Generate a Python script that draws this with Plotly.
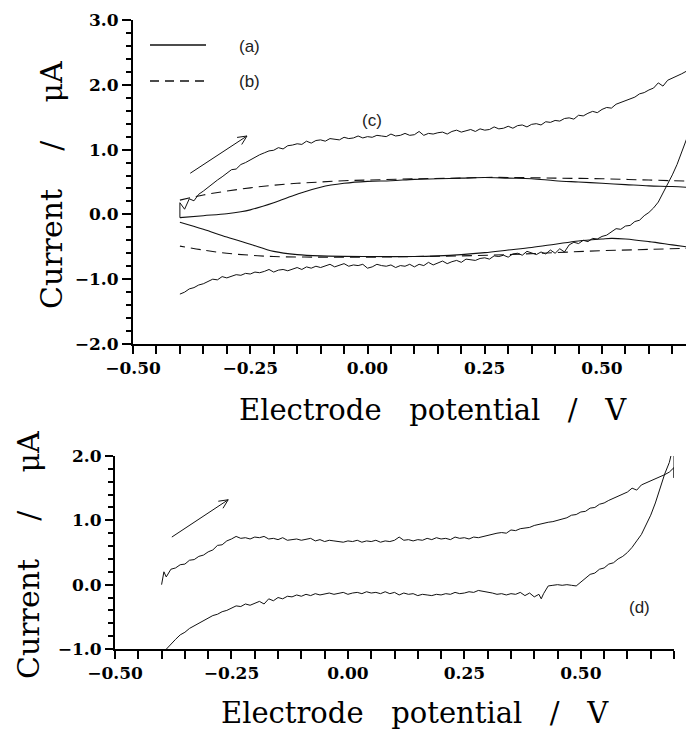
import math
import plotly.graph_objects as go

# ---------------- data ----------------
# (a) solid, smooth voltammogram
A_UP_E = [-0.40, -0.35, -0.30, -0.27, -0.25, -0.20, -0.15, -0.10, -0.05, 0.00, 0.05, 0.10, 0.15, 0.20, 0.25, 0.30, 0.35, 0.40, 0.45, 0.50, 0.55, 0.60, 0.65, 0.70]
A_UP_I = [-0.05, -0.02, 0.01, 0.04, 0.07, 0.18, 0.31, 0.42, 0.48, 0.51, 0.52, 0.54, 0.55, 0.56, 0.57, 0.56, 0.55, 0.52, 0.50, 0.48, 0.46, 0.44, 0.43, 0.41]
A_DN_E = [0.70, 0.65, 0.60, 0.55, 0.52, 0.50, 0.45, 0.40, 0.35, 0.30, 0.25, 0.20, 0.15, 0.10, 0.00, -0.10, -0.15, -0.20, -0.25, -0.30, -0.35, -0.40]
A_DN_I = [-0.52, -0.47, -0.42, -0.38, -0.37, -0.38, -0.41, -0.46, -0.51, -0.55, -0.59, -0.62, -0.64, -0.65, -0.65, -0.64, -0.62, -0.57, -0.46, -0.35, -0.23, -0.12]

# (b) dashed
B_UP_E = [-0.40, -0.35, -0.30, -0.25, -0.20, -0.15, -0.10, -0.05, 0.00, 0.10, 0.20, 0.25, 0.30, 0.40, 0.50, 0.60, 0.70]
B_UP_I = [0.22, 0.30, 0.36, 0.41, 0.45, 0.48, 0.50, 0.52, 0.53, 0.55, 0.56, 0.57, 0.57, 0.56, 0.55, 0.53, 0.51]
B_DN_E = [0.70, 0.60, 0.50, 0.40, 0.30, 0.20, 0.10, 0.00, -0.10, -0.20, -0.25, -0.30, -0.35, -0.40]
B_DN_I = [-0.52, -0.54, -0.56, -0.59, -0.62, -0.64, -0.65, -0.66, -0.66, -0.65, -0.63, -0.60, -0.55, -0.49]

# (c) noisy, top panel
C_E = [-0.40, -0.40, -0.39, -0.38, -0.37, -0.36, -0.35, -0.34, -0.33, -0.32, -0.31, -0.30, -0.29, -0.28, -0.27, -0.26, -0.25, -0.24, -0.23, -0.22, -0.21,
       -0.20, -0.19, -0.18, -0.17, -0.16, -0.15, -0.14, -0.13, -0.12, -0.11, -0.10, -0.09, -0.08, -0.07, -0.06, -0.05, -0.04, -0.03, -0.02, -0.01,
       0.00, 0.01, 0.02, 0.03, 0.04, 0.05, 0.06, 0.07, 0.08, 0.09, 0.10, 0.11, 0.12, 0.13, 0.14, 0.15, 0.16, 0.17, 0.18, 0.19,
       0.20, 0.21, 0.22, 0.23, 0.24, 0.25, 0.26, 0.27, 0.28, 0.29, 0.30, 0.31, 0.32, 0.33, 0.34, 0.35, 0.36, 0.37, 0.38, 0.39,
       0.40, 0.41, 0.42, 0.43, 0.44, 0.45, 0.46, 0.47, 0.48, 0.49, 0.50, 0.51, 0.52, 0.53, 0.54, 0.55, 0.56, 0.57, 0.58, 0.59,
       0.60, 0.61, 0.62, 0.63, 0.64, 0.65, 0.66, 0.67, 0.68, 0.69, 0.70,
       0.69, 0.68, 0.67, 0.66, 0.65, 0.64, 0.63, 0.62, 0.61, 0.60, 0.59, 0.58, 0.57, 0.56, 0.55, 0.54, 0.53, 0.52, 0.51,
       0.50, 0.49, 0.48, 0.47, 0.46, 0.45, 0.44, 0.43, 0.42, 0.41, 0.40, 0.39, 0.38, 0.37, 0.36, 0.35, 0.34, 0.33, 0.32, 0.31,
       0.30, 0.29, 0.28, 0.27, 0.26, 0.25, 0.24, 0.23, 0.22, 0.21, 0.20, 0.19, 0.18, 0.17, 0.16, 0.15, 0.14, 0.13, 0.12, 0.11,
       0.10, 0.09, 0.08, 0.07, 0.06, 0.05, 0.04, 0.03, 0.02, 0.01, 0.00, -0.01, -0.02, -0.03, -0.04, -0.05, -0.06, -0.07, -0.08, -0.09,
       -0.10, -0.11, -0.12, -0.13, -0.14, -0.15, -0.16, -0.17, -0.18, -0.19, -0.20, -0.21, -0.22, -0.23, -0.24, -0.25, -0.26, -0.27, -0.28, -0.29,
       -0.30, -0.31, -0.32, -0.33, -0.34, -0.35, -0.36, -0.37, -0.38, -0.39, -0.40]
C_I = [-0.05, 0.18, 0.08, 0.24, 0.21, 0.31, 0.36, 0.42, 0.48, 0.53, 0.58, 0.63, 0.69, 0.70, 0.77, 0.80, 0.84, 0.89, 0.92, 0.95, 0.98,
       0.99, 1.03, 1.01, 1.06, 1.07, 1.09, 1.08, 1.13, 1.10, 1.14, 1.15, 1.13, 1.17, 1.16, 1.15, 1.19, 1.17, 1.18, 1.21, 1.18,
       1.20, 1.19, 1.22, 1.21, 1.20, 1.24, 1.21, 1.22, 1.25, 1.22, 1.23, 1.28, 1.22, 1.25, 1.24, 1.26, 1.27, 1.24, 1.28, 1.30,
       1.27, 1.29, 1.31, 1.28, 1.32, 1.30, 1.31, 1.35, 1.32, 1.33, 1.36, 1.33, 1.37, 1.38, 1.35, 1.39, 1.40, 1.38, 1.43, 1.42,
       1.45, 1.44, 1.48, 1.49, 1.47, 1.53, 1.52, 1.56, 1.59, 1.57, 1.62, 1.65, 1.64, 1.70, 1.73, 1.75, 1.79, 1.81, 1.86, 1.88,
       1.92, 1.95, 2.03, 1.98, 2.07, 2.10, 2.14, 2.17, 2.21, 2.24, 2.28,
       1.35, 1.15, 0.95, 0.77, 0.61, 0.47, 0.33, 0.19, 0.10, 0.03, -0.02, -0.09, -0.11, -0.17, -0.18, -0.23, -0.22, -0.27, -0.32,
       -0.34, -0.38, -0.37, -0.42, -0.40, -0.45, -0.43, -0.47, -0.58, -0.53, -0.60, -0.55, -0.61, -0.58, -0.62, -0.59, -0.57, -0.63, -0.60, -0.61,
       -0.66, -0.63, -0.65, -0.64, -0.69, -0.67, -0.68, -0.71, -0.70, -0.69, -0.74, -0.71, -0.73, -0.76, -0.72, -0.75, -0.78, -0.74, -0.79, -0.77,
       -0.81, -0.77, -0.80, -0.79, -0.82, -0.78, -0.80, -0.79, -0.77, -0.81, -0.83, -0.77, -0.79, -0.78, -0.80, -0.76, -0.79, -0.81, -0.77, -0.79,
       -0.82, -0.80, -0.83, -0.81, -0.85, -0.82, -0.84, -0.87, -0.85, -0.86, -0.89, -0.85, -0.88, -0.90, -0.89, -0.92, -0.91, -0.94, -0.93, -0.95,
       -0.98, -0.96, -1.01, -1.00, -1.04, -1.07, -1.09, -1.13, -1.15, -1.20, -1.23]

# (d) noisy, bottom panel
D_E = [-0.40, -0.395, -0.39, -0.38, -0.37, -0.36, -0.35, -0.34, -0.33, -0.32, -0.31, -0.30, -0.29, -0.28, -0.27, -0.26, -0.25, -0.24, -0.23, -0.22, -0.21,
       -0.20, -0.19, -0.18, -0.17, -0.16, -0.15, -0.14, -0.13, -0.12, -0.11, -0.10, -0.09, -0.08, -0.07, -0.06, -0.05, -0.04, -0.03, -0.02, -0.01,
       0.00, 0.01, 0.02, 0.03, 0.04, 0.05, 0.06, 0.07, 0.08, 0.09, 0.10, 0.11, 0.12, 0.13, 0.14, 0.15, 0.16, 0.17, 0.18, 0.19,
       0.20, 0.21, 0.22, 0.23, 0.24, 0.25, 0.26, 0.27, 0.28, 0.29, 0.30, 0.31, 0.32, 0.33, 0.34, 0.35, 0.36, 0.37, 0.38, 0.39,
       0.40, 0.41, 0.42, 0.43, 0.44, 0.45, 0.46, 0.47, 0.48, 0.49, 0.50, 0.51, 0.52, 0.53, 0.54, 0.55, 0.56, 0.57, 0.58, 0.59,
       0.60, 0.61, 0.62, 0.63, 0.64, 0.65, 0.66, 0.67, 0.68, 0.69, 0.70, 0.70, 0.70, 0.695,
       0.69, 0.68, 0.67, 0.66, 0.65, 0.64, 0.63, 0.62, 0.61, 0.60, 0.59, 0.58, 0.57, 0.56, 0.55, 0.54, 0.53, 0.52, 0.51,
       0.50, 0.49, 0.48, 0.47, 0.46, 0.45, 0.44, 0.43, 0.42, 0.415, 0.41, 0.40, 0.39, 0.38, 0.37, 0.36, 0.35, 0.34, 0.33, 0.32, 0.31,
       0.30, 0.29, 0.28, 0.27, 0.26, 0.25, 0.24, 0.23, 0.22, 0.21, 0.20, 0.19, 0.18, 0.17, 0.16, 0.15, 0.14, 0.13, 0.12, 0.11,
       0.10, 0.09, 0.08, 0.07, 0.06, 0.05, 0.04, 0.03, 0.02, 0.01, 0.00, -0.01, -0.02, -0.03, -0.04, -0.05, -0.06, -0.07, -0.08, -0.09,
       -0.10, -0.11, -0.12, -0.13, -0.14, -0.15, -0.16, -0.17, -0.18, -0.19, -0.20, -0.21, -0.22, -0.23, -0.24, -0.25, -0.26, -0.27, -0.28, -0.29,
       -0.30, -0.31, -0.32, -0.33, -0.34, -0.35, -0.36, -0.37, -0.38, -0.39, -0.40]
D_I = [0.00, 0.20, 0.12, 0.24, 0.26, 0.31, 0.32, 0.38, 0.39, 0.44, 0.46, 0.51, 0.54, 0.61, 0.62, 0.68, 0.71, 0.75, 0.72, 0.73, 0.71,
       0.74, 0.73, 0.75, 0.71, 0.72, 0.70, 0.73, 0.69, 0.70, 0.71, 0.69, 0.70, 0.72, 0.68, 0.70, 0.67, 0.69, 0.68, 0.67, 0.66,
       0.68, 0.67, 0.69, 0.66, 0.68, 0.67, 0.69, 0.66, 0.68, 0.67, 0.69, 0.74, 0.69, 0.70, 0.68, 0.70, 0.69, 0.72, 0.70, 0.73,
       0.71, 0.72, 0.70, 0.74, 0.72, 0.73, 0.71, 0.74, 0.73, 0.75, 0.77, 0.78, 0.80, 0.81, 0.80, 0.85, 0.84, 0.87, 0.88, 0.89,
       0.92, 0.94, 0.95, 0.97, 0.98, 1.00, 1.03, 1.04, 1.08, 1.09, 1.13, 1.14, 1.19, 1.20, 1.25, 1.27, 1.31, 1.34, 1.37, 1.41,
       1.44, 1.50, 1.47, 1.55, 1.58, 1.61, 1.64, 1.67, 1.71, 1.75, 1.82, 1.66, 2.25, 2.05,
       1.90, 1.72, 1.48, 1.27, 1.08, 0.93, 0.78, 0.68, 0.58, 0.50, 0.44, 0.40, 0.34, 0.32, 0.26, 0.24, 0.18, 0.16, 0.10,
       0.03, -0.02, -0.01, 0.00, -0.01, 0.00, -0.01, -0.02, -0.14, -0.22, -0.15, -0.19, -0.13, -0.17, -0.12, -0.15, -0.14, -0.16, -0.14, -0.15, -0.13,
       -0.12, -0.10, -0.09, -0.12, -0.11, -0.13, -0.14, -0.12, -0.15, -0.14, -0.16, -0.15, -0.17, -0.16, -0.15, -0.17, -0.14, -0.15, -0.13, -0.16,
       -0.12, -0.14, -0.11, -0.14, -0.12, -0.13, -0.11, -0.14, -0.12, -0.13, -0.15, -0.12, -0.14, -0.15, -0.13, -0.14, -0.16, -0.14, -0.17, -0.15,
       -0.18, -0.16, -0.19, -0.18, -0.22, -0.20, -0.25, -0.22, -0.30, -0.26, -0.29, -0.32, -0.30, -0.34, -0.33, -0.37, -0.40, -0.42, -0.46, -0.48,
       -0.52, -0.55, -0.60, -0.64, -0.68, -0.74, -0.78, -0.85, -0.92, -1.00, -1.08]

# annotation positions (data units)
ARROW_TOP = (-0.378, 0.635, -0.257, 1.21)
ARROW_BOT = (-0.378, 0.74, -0.257, 1.32)
LABEL_C = (0.01, 1.45)
LABEL_D = (0.627, -0.36)

X_TICKS = [-0.50, -0.25, 0.00, 0.25, 0.50]

# ---------------- layout geometry ----------------
W, H = 686, 731
TOP_X = (133, 686); TOP_Y = (20, 344)
BOT_X = (115, 674); BOT_Y = (456, 649)
TOP_XR = [-0.5, -0.5 + (TOP_X[1] - TOP_X[0]) / 469.0]
TOP_YR = [-2.0, 3.0]
BOT_XR = [-0.5, 0.70]
BOT_YR = [-1.0, 2.0]

INK = "#111111"
TICKFONT = dict(family="DejaVu Serif", size=17, color="#000000", weight="bold")
TITLEFONT = dict(family="DejaVu Serif", size=29, color="#000000")
YTITLEFONT = dict(family="DejaVu Serif", size=30, color="#000000")
SMALLFONT = dict(family="Liberation Sans", size=17, color="#222222")

def dom(px, total, flip=False):
    if flip:
        return [1 - px[1] / total, 1 - px[0] / total]
    return [px[0] / total, px[1] / total]

fig = go.Figure()
line_solid = dict(color=INK, width=1.1)
line_dash = dict(color=INK, width=1.1, dash="10px,6px")

fig.add_trace(go.Scatter(x=A_UP_E, y=A_UP_I, mode="lines", line_shape="spline", line=line_solid, xaxis="x", yaxis="y"))
fig.add_trace(go.Scatter(x=A_DN_E, y=A_DN_I, mode="lines", line_shape="spline", line=line_solid, xaxis="x", yaxis="y"))
fig.add_trace(go.Scatter(x=B_UP_E, y=B_UP_I, mode="lines", line_shape="spline", line=line_dash, xaxis="x", yaxis="y"))
fig.add_trace(go.Scatter(x=B_DN_E, y=B_DN_I, mode="lines", line_shape="spline", line=line_dash, xaxis="x", yaxis="y"))
fig.add_trace(go.Scatter(x=C_E, y=C_I, mode="lines", line=dict(color=INK, width=1), xaxis="x", yaxis="y"))
fig.add_trace(go.Scatter(x=D_E, y=D_I, mode="lines", line=dict(color=INK, width=1), xaxis="x2", yaxis="y2"))

def axis_common():
    return dict(showgrid=False, zeroline=False, showline=True, linecolor="#000", linewidth=2,
                ticks="outside", tickcolor="#000", tickwidth=1.5, tickfont=TICKFONT, automargin=False,
                fixedrange=True)

xa = axis_common(); xa.update(domain=dom(TOP_X, W), range=TOP_XR, anchor="y", tickvals=X_TICKS,
                                tickformat=".2f", ticklen=8,
                                minor=dict(dtick=0.05, tick0=-0.5, ticklen=8, tickwidth=1.5, tickcolor="#000", ticks="outside"))
ya = axis_common(); ya.update(domain=dom(TOP_Y, H, True), range=TOP_YR, anchor="x", dtick=1.0, tick0=0,
                                tickformat=".1f", ticklen=9,
                                minor=dict(dtick=0.2, tick0=0, ticklen=5, tickwidth=1.5, tickcolor="#000", ticks="outside"))
xb = axis_common(); xb.update(domain=dom(BOT_X, W), range=BOT_XR, anchor="y2", tickvals=X_TICKS,
                                tickformat=".2f", ticklen=8,
                                minor=dict(dtick=0.05, tick0=-0.5, ticklen=8, tickwidth=1.5, tickcolor="#000", ticks="outside"))
yb = axis_common(); yb.update(domain=dom(BOT_Y, H, True), range=BOT_YR, anchor="x2", dtick=1.0, tick0=0,
                                tickformat=".1f", ticklen=8,
                                minor=dict(dtick=0.2, tick0=0, ticklen=5, tickwidth=1.5, tickcolor="#000", ticks="outside"))

# arrows with open V heads
def arrow_path(a, xr, yr, xpx, ypx):
    x0, y0, x1, y1 = a
    sx = (xpx[1] - xpx[0]) / (xr[1] - xr[0])
    sy = (ypx[1] - ypx[0]) / (yr[1] - yr[0])
    dx, dy = (x1 - x0) * sx, (y1 - y0) * sy
    ang = math.atan2(dy, dx)
    L = 10
    pts = []
    for s in (1, -1):
        b = ang + math.pi - s * math.radians(25)
        pts.append((x1 + L * math.cos(b) / sx, y1 + L * math.sin(b) / sy))
    return (f"M {x0} {y0} L {x1} {y1} M {pts[0][0]} {pts[0][1]} L {x1} {y1} L {pts[1][0]} {pts[1][1]}")

shapes = [
    dict(type="path", xref="x", yref="y", path=arrow_path(ARROW_TOP, TOP_XR, TOP_YR, TOP_X, TOP_Y),
         line=dict(color=INK, width=1)),
    dict(type="path", xref="x2", yref="y2", path=arrow_path(ARROW_BOT, BOT_XR, BOT_YR, BOT_X, BOT_Y),
         line=dict(color=INK, width=1)),
    # legend samples
    dict(type="line", xref="paper", yref="paper", x0=150 / W, x1=206 / W, y0=1 - 45 / H, y1=1 - 45 / H,
         line=dict(color=INK, width=1.6)),
    dict(type="line", xref="paper", yref="paper", x0=150 / W, x1=206 / W, y0=1 - 81 / H, y1=1 - 81 / H,
         line=dict(color=INK, width=1.6, dash="9px,6px")),
]

NB = "\u00a0"
XT = f"Electrode{NB*3}potential{NB*3}/{NB*3}V"
YT = f"Current{NB*4}/{NB*4}μA"
C = dict(showarrow=False, xanchor="center", yanchor="middle")
annotations = [
    dict(text="(a)", xref="paper", yref="paper", x=250 / W, y=1 - 46 / H, font=SMALLFONT, **C),
    dict(text="(b)", xref="paper", yref="paper", x=250 / W, y=1 - 81 / H, font=SMALLFONT, **C),
    dict(text="(c)", xref="x", yref="y", x=LABEL_C[0], y=LABEL_C[1], font=SMALLFONT, **C),
    dict(text="(d)", xref="x2", yref="y2", x=LABEL_D[0], y=LABEL_D[1], font=SMALLFONT, **C),
    dict(text=XT, xref="paper", yref="paper", x=433 / W, y=1 - 410 / H, font=TITLEFONT, **C),
    dict(text=XT, xref="paper", yref="paper", x=415 / W, y=1 - 713 / H, font=TITLEFONT, **C),
    dict(text=YT, xref="paper", yref="paper", x=52 / W, y=1 - 185 / H, textangle=-90, font=YTITLEFONT, **C),
    dict(text=YT, xref="paper", yref="paper", x=28 / W, y=1 - 555 / H, textangle=-90, font=YTITLEFONT, **C),
]

fig.update_layout(
    width=W, height=H, margin=dict(l=0, r=0, t=0, b=0),
    paper_bgcolor="white", plot_bgcolor="white", showlegend=False,
    xaxis=xa, yaxis=ya, xaxis2=xb, yaxis2=yb,
    shapes=shapes, annotations=annotations,
)

fig.write_html("out.html")
